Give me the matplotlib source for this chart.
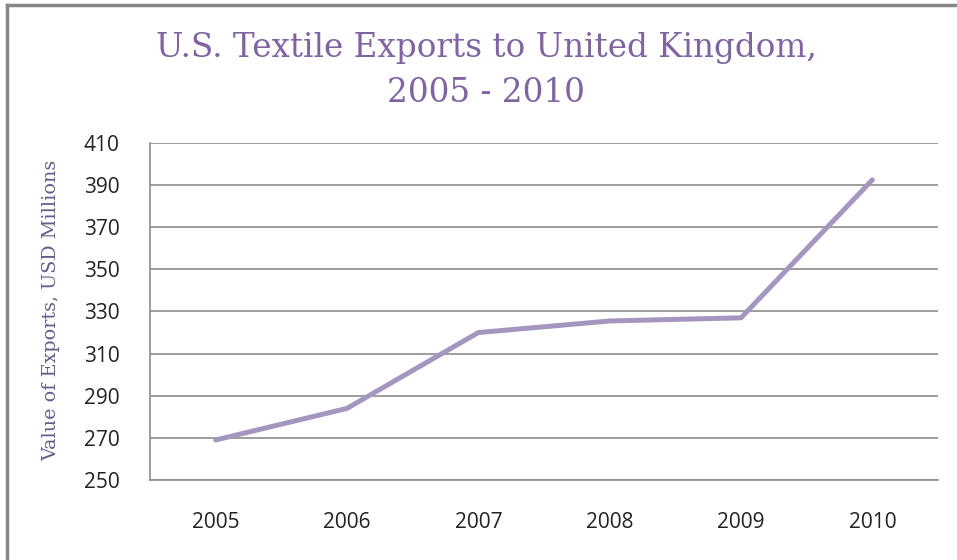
import matplotlib.pyplot as plt
from matplotlib.lines import Line2D

# datos
anios = ["2005", "2006", "2007", "2008", "2009", "2010"]
exportaciones = [269, 284, 320, 325.5, 327, 392.5]
ticks_y = [250, 270, 290, 310, 330, 350, 370, 390, 410]

morado = "#8064a2"
linea = "#a596c0"
gris = "#8c8c8c"

fig = plt.figure(figsize=(9.57, 5.6), dpi=100)
ax = fig.add_axes([150 / 957, 1 - 480 / 560, (938 - 150) / 957, (480 - 143) / 560])

x = range(len(anios))
ax.plot(x, exportaciones, color=linea, linewidth=3.6, solid_capstyle="round", zorder=3)

ax.set_xlim(-0.5, len(anios) - 0.5)
ax.set_ylim(250, 410)
ax.set_yticks(ticks_y)
ax.set_xticks(list(x))
ax.set_xticklabels(anios)
ax.grid(axis="y", color=gris, linewidth=1.2)
ax.tick_params(length=0, labelsize=15, colors="#222222")
ax.tick_params(axis="x", pad=23)
ax.tick_params(axis="y", pad=22)
for lab in ax.get_xticklabels() + ax.get_yticklabels():
    lab.set_family("Open Sans")

for s in ["top", "right"]:
    ax.spines[s].set_visible(False)
ax.spines["left"].set_color(gris)
ax.spines["bottom"].set_color(gris)
ax.spines["left"].set_linewidth(1.2)
ax.spines["bottom"].set_linewidth(1.2)

fig.text(486 / 957, 1 - 48 / 560, "U.S. Textile Exports to United Kingdom,", ha="center", va="center",
         fontsize=23.5, color=morado, family="DejaVu Serif")
fig.text(486 / 957, 1 - 93 / 560, "2005 - 2010", ha="center", va="center",
         fontsize=23.5, color=morado, family="DejaVu Serif")
fig.text(51 / 957, 1 - 310 / 560, "Value of Exports, USD Millions", ha="center", va="center",
         rotation=90, fontsize=13.8, color="#6a5a8c", family="DejaVu Serif")

# marco exterior del area del grafico
fig.add_artist(Line2D([7 / 957, 7 / 957], [0, 1 - 5 / 560], color="#888888", linewidth=2.5))
fig.add_artist(Line2D([7 / 957, 1], [1 - 5 / 560, 1 - 5 / 560], color="#888888", linewidth=2.5))

fig.savefig("out.png", dpi=100)
